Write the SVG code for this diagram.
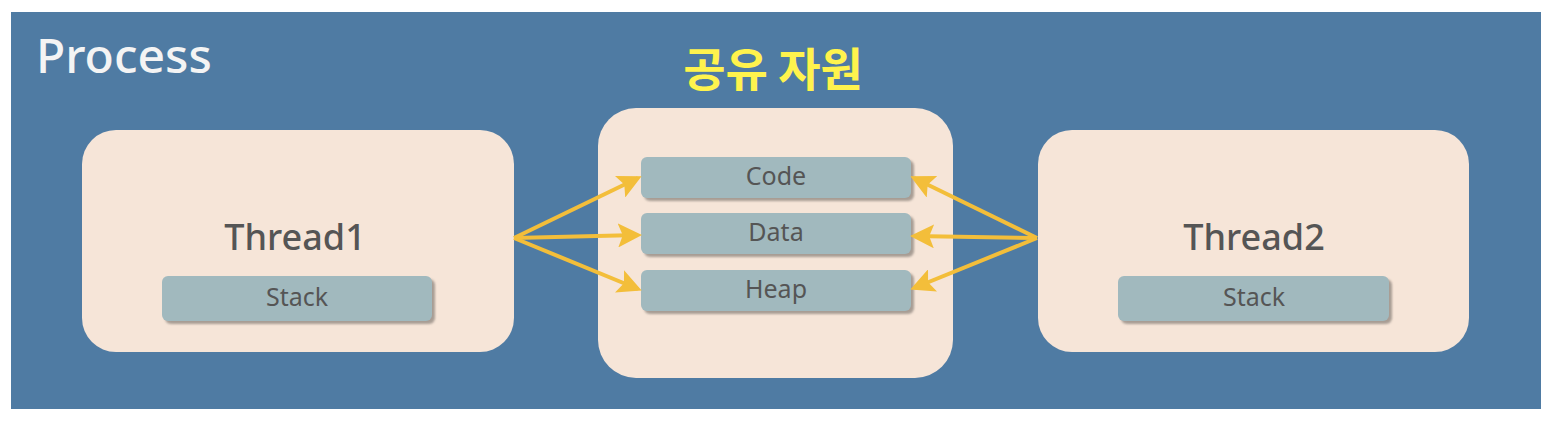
<svg xmlns="http://www.w3.org/2000/svg" width="1568" height="428" viewBox="0 0 1568 428">
<style>
.box{fill:#F6E5D8}
.chip{fill:#A1B9BE}
.shadow{fill:#8E857E;opacity:0.75}
.lbl{font-family:"Noto Sans","Open Sans","Liberation Sans",sans-serif;fill:#555555;text-anchor:middle}
.big{font-size:36px;font-weight:500}
.small{font-size:25px}
.conn{stroke:#F3BE3A;stroke-width:4;fill:none;marker-end:url(#ah)}
</style>
<defs>
<marker id="ah" markerWidth="6" markerHeight="6" refX="5" refY="3" orient="auto" markerUnits="strokeWidth">
<path d="M0,0 L6,3 L0,6 L1.2,3 Z" fill="#F3BE3A"/>
</marker>
<filter id="blur" x="-10%" y="-20%" width="120%" height="140%"><feGaussianBlur stdDeviation="1.2"/></filter>
</defs>
<rect width="1568" height="428" fill="#FFFFFF"/>
<g id="process">
<rect x="11" y="12" width="1530" height="397" fill="#4F7BA3"/>
<text x="36" y="73" font-family="'Noto Sans','Open Sans','Liberation Sans',sans-serif" font-size="48" font-weight="500" fill="#F4F4F4">Process</text>
<text x="773" y="86" font-family="'Noto Sans CJK KR',sans-serif" font-size="46" font-weight="bold" fill="#FFF34D" text-anchor="middle">공유 자원</text>
</g>
<g id="thread1">
<rect class="box" x="82" y="130" width="432" height="222" rx="34"/>
<text class="lbl big" x="295" y="250">Thread1</text>
<rect class="shadow" x="165" y="279" width="270" height="45" rx="6" filter="url(#blur)"/>
<rect class="chip" x="162" y="276" width="270" height="45" rx="6"/>
<text class="lbl small" x="297" y="306">Stack</text>
</g>
<g id="shared">
<rect class="box" x="598" y="108" width="355" height="270" rx="38"/>
<g id="code">
<rect class="shadow" x="644" y="160" width="270" height="41" rx="6" filter="url(#blur)"/>
<rect class="chip" x="641" y="157" width="270" height="41" rx="6"/>
<text class="lbl small" x="776" y="185">Code</text>
</g>
<g id="data">
<rect class="shadow" x="644" y="216" width="270" height="41" rx="6" filter="url(#blur)"/>
<rect class="chip" x="641" y="213" width="270" height="41" rx="6"/>
<text class="lbl small" x="776" y="241">Data</text>
</g>
<g id="heap">
<rect class="shadow" x="644" y="273" width="270" height="41" rx="6" filter="url(#blur)"/>
<rect class="chip" x="641" y="270" width="270" height="41" rx="6"/>
<text class="lbl small" x="776" y="298">Heap</text>
</g>
</g>
<g id="thread2">
<rect class="box" x="1038" y="130" width="431" height="222" rx="34"/>
<text class="lbl big" x="1254" y="250">Thread2</text>
<rect class="shadow" x="1121" y="279" width="271" height="45" rx="6" filter="url(#blur)"/>
<rect class="chip" x="1118" y="276" width="271" height="45" rx="6"/>
<text class="lbl small" x="1254" y="306">Stack</text>
</g>
<g id="connectors">
<line class="conn" x1="514" y1="238" x2="638" y2="178"/>
<line class="conn" x1="514" y1="238" x2="638" y2="235"/>
<line class="conn" x1="514" y1="238" x2="638" y2="289"/>
<line class="conn" x1="1037" y1="238" x2="914" y2="178"/>
<line class="conn" x1="1037" y1="238" x2="914" y2="236"/>
<line class="conn" x1="1037" y1="238" x2="914" y2="288"/>
</g>
</svg>
